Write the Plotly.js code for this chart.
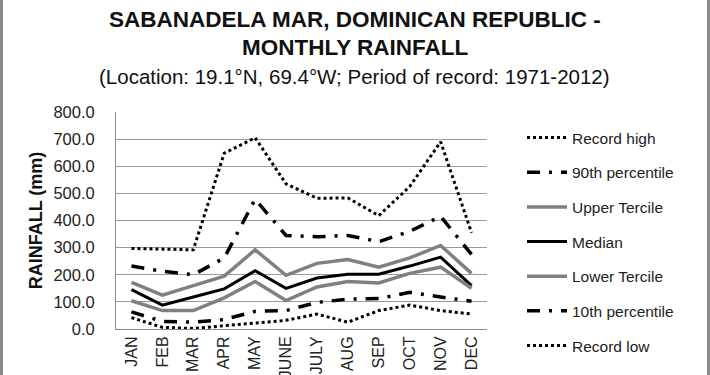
<!DOCTYPE html>
<html>
<head>
<meta charset="utf-8">
<script src="https://cdn.plot.ly/plotly-3.0.1.min.js"></script>
<style>
html,body{margin:0;padding:0;background:#fff;overflow:hidden;}
#wrap{position:relative;width:710px;height:375px;}
#chart{width:710px;height:375px;}
#frame{position:absolute;left:0;top:0;width:710px;height:375px;box-sizing:border-box;border-left:3px solid #8a8a8a;border-right:3px solid #8a8a8a;pointer-events:none;}
</style>
</head>
<body>
<div id="wrap"><div id="chart"></div><div id="frame"></div></div>
<script>
const months = ['JAN','FEB','MAR','APR','MAY','JUNE','JULY','AUG','SEP','OCT','NOV','DEC'];
const recordHigh = [297, 295, 292, 648, 705, 535, 482, 483, 418, 525, 690, 355];
const p90 = [232, 213, 200, 262, 478, 345, 340, 345, 322, 360, 415, 275];
const upperTercile = [172, 125, 160, 195, 292, 198, 242, 256, 228, 262, 308, 205];
const median = [145, 88, 118, 148, 215, 150, 188, 202, 202, 232, 265, 160];
const lowerTercile = [104, 68, 68, 115, 175, 105, 155, 175, 170, 205, 228, 150];
const p10 = [63, 28, 25, 35, 65, 68, 98, 110, 112, 135, 118, 102];
const recordLow = [42, 6, 2, 12, 22, 32, 55, 25, 68, 88, 68, 55];

const titleLine1 = 'SABANADELA MAR, DOMINICAN REPUBLIC -';
const titleLine2 = 'MONTHLY RAINFALL';
const subtitle = '(Location: 19.1°N, 69.4°W; Period of record: 1971-2012)';

const dashDot = '13px,9px,3px,9px';
const series = [
  {name:'Record high', y:recordHigh, color:'#000', width:3, dash:'dot'},
  {name:'90th percentile', y:p90, color:'#000', width:3.5, dash:dashDot},
  {name:'Upper Tercile', y:upperTercile, color:'#808080', width:3.5, dash:'solid'},
  {name:'Median', y:median, color:'#000', width:3, dash:'solid'},
  {name:'Lower Tercile', y:lowerTercile, color:'#808080', width:3.5, dash:'solid'},
  {name:'10th percentile', y:p10, color:'#000', width:3.5, dash:dashDot},
  {name:'Record low', y:recordLow, color:'#000', width:3, dash:'dot'}
];

const traces = series.map((s,i) => ({
  type:'scatter', mode:'lines', name:s.name, x:months, y:s.y,
  legendgroup:'g'+i,
  line:{color:s.color, width:s.width, dash:s.dash}
}));

const FONT = 'Liberation Sans, Arial, sans-serif';
const L = 116, T = 112, B = 329, W = 371, H = 217;
const py = y => (B - y) / H;
const px = x => (x - L) / W;

const layout = {
  width:710, height:375,
  margin:{l:116, r:223, t:112, b:46},
  paper_bgcolor:'#fff', plot_bgcolor:'#fff',
  font:{family:FONT, color:'#222'},
  showlegend:true,
  legend:{x:px(522), y:py(121), xanchor:'left', yanchor:'top', traceorder:'grouped',
          tracegroupgap:11.5, font:{size:15.5, color:'#222'}, bgcolor:'rgba(0,0,0,0)',
          itemwidth:40, maxheight:600},
  xaxis:{type:'category', range:[-0.5, 11.5], showgrid:false, showline:true,
         linecolor:'#8c8c8c', linewidth:1, ticks:'', tickangle:-90,
         tickfont:{size:16, color:'#222'}, automargin:false, fixedrange:true},
  yaxis:{range:[0,800], dtick:100, tickformat:'.1f', showgrid:true, gridcolor:'#9a9a9a',
         gridwidth:1, showline:true, linecolor:'#8c8c8c', linewidth:1, zeroline:false,
         ticks:'', ticklabelstandoff:17, tickfont:{size:16.5, color:'#222'}, automargin:false,
         title:{text:'<b>RAINFALL (mm)</b>', font:{size:18, color:'#111'}, standoff:6},
         fixedrange:true},
  annotations:[
    {xref:'paper', yref:'paper', x:px(355), y:py(19), xanchor:'center', yanchor:'middle',
     showarrow:false, text:'<b>'+titleLine1+'</b>', font:{size:22.5, color:'#111', family:FONT}},
    {xref:'paper', yref:'paper', x:px(355), y:py(48), xanchor:'center', yanchor:'middle',
     showarrow:false, text:'<b>'+titleLine2+'</b>', font:{size:22.5, color:'#111', family:FONT}},
    {xref:'paper', yref:'paper', x:px(354), y:py(76), xanchor:'center', yanchor:'middle',
     showarrow:false, text:subtitle, font:{size:20.5, color:'#111', family:FONT}}
  ]
};

Plotly.newPlot('chart', traces, layout, {displayModeBar:false, staticPlot:true});
</script>
</body>
</html>
